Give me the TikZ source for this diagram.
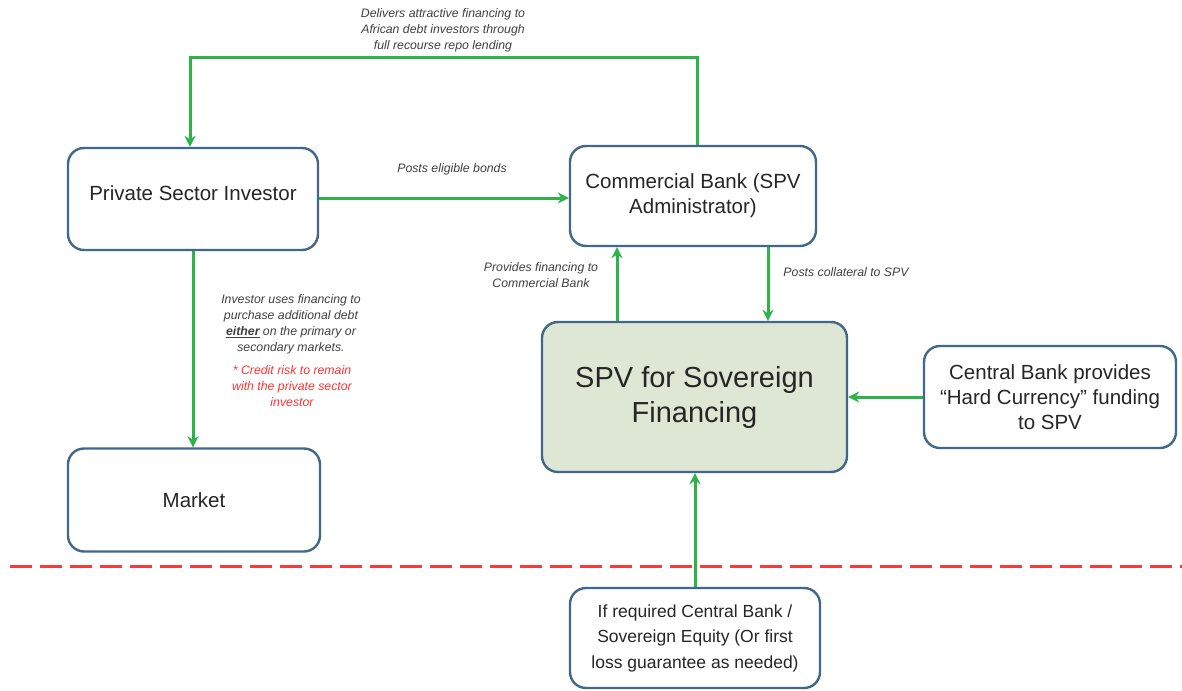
\documentclass[tikz,border=0pt]{standalone}
\usepackage{fontspec}
\setmainfont{Liberation Sans}
\usetikzlibrary{arrows.meta}
\definecolor{boxline}{HTML}{41678A}
\definecolor{gline}{HTML}{2DB34A}
\definecolor{spvfill}{HTML}{DDE7D3}
\definecolor{lbl}{HTML}{404040}
\definecolor{redtxt}{HTML}{FF3333}
\definecolor{dashred}{HTML}{F83A3A}
\tikzset{
  x=1pt,y=1pt,
  box/.style={draw=boxline, line width=2.4pt, rounded corners=16pt, fill=white, align=center, text=black!85,
    font=\fontsize{20.5}{25}\selectfont, inner sep=0pt},
  arr/.style={draw=gline, line width=3pt, -{Stealth[length=11pt,width=11pt]}},
  lab/.style={font=\fontsize{12.3}{16}\selectfont\itshape, text=lbl, align=center, inner sep=0pt}
}
\begin{document}
\begin{tikzpicture}
\useasboundingbox (0,0) rectangle (1182,-690);
\fill[white] (0,0) rectangle (1182,-690);
% boxes
\node[box, minimum width=250, minimum height=102] (psi) at (193,-199) {\raisebox{11pt}{Private Sector Investor}};
\node[box, minimum width=246, minimum height=100] (cb) at (693,-196) {Commercial Bank (SPV\\Administrator)};
\node[box, minimum width=252, minimum height=103] (mkt) at (194,-500) {Market};
\node[box, fill=spvfill, minimum width=305, minimum height=150, font=\fontsize{29}{35}\selectfont] (spv) at (694.5,-397) {SPV for Sovereign\\Financing};
\node[box, minimum width=252, minimum height=102] (ctb) at (1050,-397) {Central Bank provides\\``Hard Currency'' funding\\to SPV};
\node[box, minimum width=250, minimum height=100, font=\fontsize{17.5}{25.5}\selectfont] (ifr) at (695,-638) {If required Central Bank /\\Sovereign Equity (Or first\\loss guarantee as needed)};
% connectors
\draw[arr] ([xshift=4pt]cb.north) -- ++(0,87) -| ([xshift=-3pt]psi.north);
\draw[arr] ([yshift=1pt]psi.east) -- ([yshift=1pt]psi.east -| cb.west);
\draw[arr] (psi.south) -- (mkt.north -| psi.south);
\draw[arr] ([xshift=-77.5pt]spv.north) -- ([xshift=-77.5pt]spv.north |- cb.south);
\draw[arr] ([xshift=75pt]cb.south) -- ([xshift=75pt]cb.south |- spv.north);
\draw[arr] (ctb.west) -- (spv.east);
\draw[arr] (ifr.north) -- (ifr.north |- spv.south);
% dashed line
\coordinate (dl) at (10,-566);
\coordinate (dr) at (1182,-566);
\draw[dashred, line width=3pt, dash pattern=on 22pt off 8pt] (dl) -- (dr);
% labels
\node[lab] (l1) at (443,-30) {Delivers attractive financing to\\African debt investors through\\full recourse repo lending};
\node[lab] (l2) at (452,-169) {Posts eligible bonds};
\node[lab] (l3) at (541,-275) {Provides financing to\\Commercial Bank};
\node[lab] (l4) at (846,-272) {Posts collateral to SPV};
\node[lab] (l5) at (291,-324) {Investor uses financing to\\purchase additional debt\\\underline{\textbf{either}} on the primary or\\secondary markets.};
\node[lab, text=redtxt] (l6) at (292,-386) {* Credit risk to remain\\with the private sector\\investor};
\end{tikzpicture}
\end{document}
